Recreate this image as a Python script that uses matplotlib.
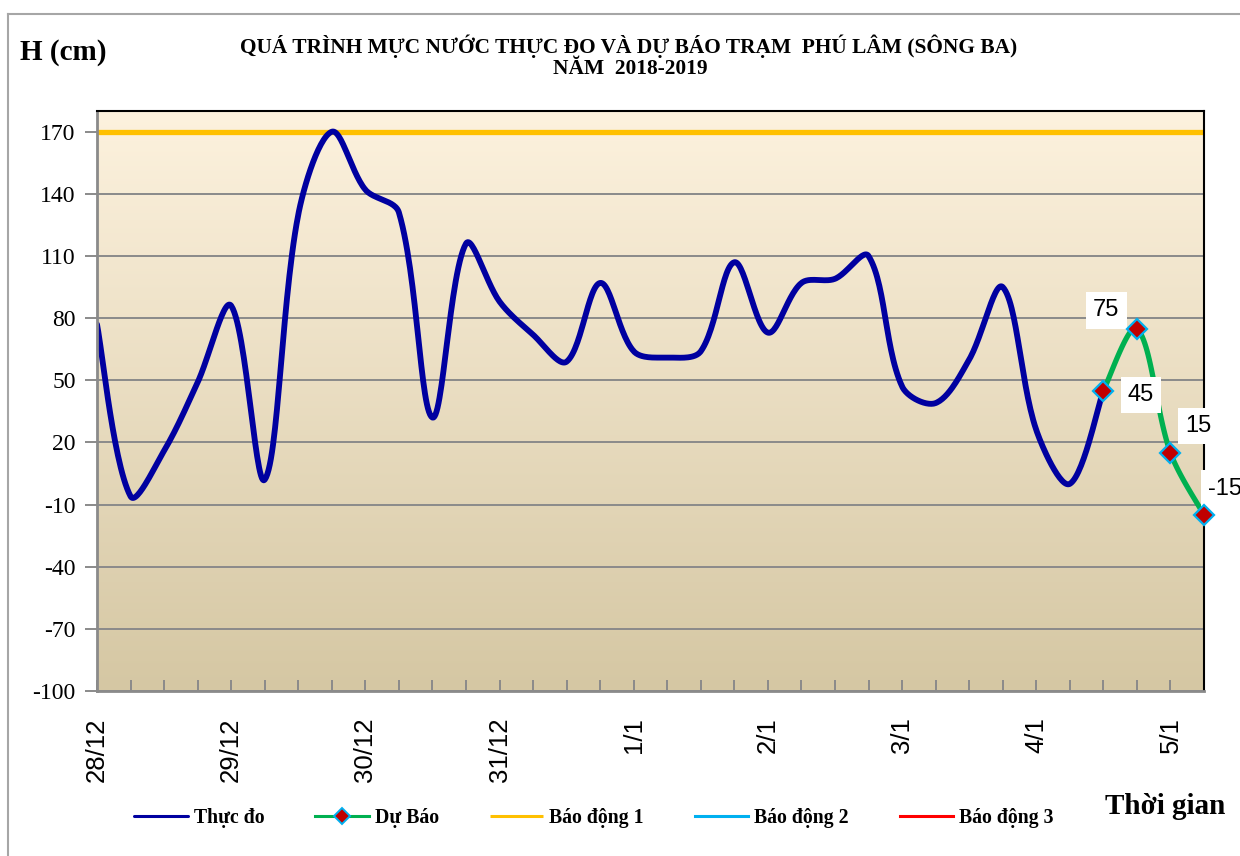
import numpy as np
import matplotlib
matplotlib.use("Agg")
import matplotlib.pyplot as plt
from matplotlib.colors import LinearSegmentedColormap
from matplotlib.lines import Line2D

# ---------------- data ----------------
# 6-hourly steps from 28/12 00h (step = 0.25 day)
obs_values = [77, -6, 16, 49, 86, 2, 130, 170, 142, 131, 32, 116, 88, 72, 59,
              97, 64, 61, 64, 107, 73, 97, 99, 110, 47, 39, 60, 95, 26, 0, 45]
fc_values = [45, 75, 15, -15]
fc_start_step = 30
step_days = 0.25

alarm1 = 170
alarm2 = 270
alarm3 = 370

day_labels = ["28/12", "29/12", "30/12", "31/12", "1/1", "2/1", "3/1", "4/1", "5/1"]
y_ticks = list(range(-100, 171, 30))

title_line1 = "QUÁ TRÌNH MỰC NƯỚC THỰC ĐO VÀ DỰ BÁO TRẠM  PHÚ LÂM (SÔNG BA)"
title_line2 = "NĂM  2018-2019"

SERIF = ["Liberation Serif", "DejaVu Serif"]
SANS = ["Liberation Sans", "DejaVu Sans"]


def excel_smooth(ax, x, y, n=30):
    """Smoothed line similar to spreadsheet 'smoothed line' (chord-weighted Bezier),
    computed in display space, returned in data space."""
    P = ax.transData.transform(np.column_stack([x, y]).astype(float))
    N = len(P)
    d = np.linalg.norm(np.diff(P, axis=0), axis=1)
    t = np.linspace(0, 1, n)[:, None]
    out = []
    for i in range(N - 1):
        p1, p2 = P[i], P[i + 1]
        p0 = P[i - 1] if i > 0 else P[i]
        p3 = P[i + 2] if i + 2 < N else P[i + 1]
        dprev = d[i - 1] if i > 0 else d[i]
        dnext = d[i + 1] if i + 1 < N - 1 else d[i]
        c1 = p1 + (p2 - p0) * d[i] / (dprev + d[i]) / 3.0
        c2 = p2 - (p3 - p1) * d[i] / (d[i] + dnext) / 3.0
        seg = ((1 - t) ** 3) * p1 + 3 * ((1 - t) ** 2) * t * c1 + 3 * (1 - t) * t ** 2 * c2 + t ** 3 * p2
        out.append(seg if i == 0 else seg[1:])
    s = ax.transData.inverted().transform(np.vstack(out))
    return s[:, 0], s[:, 1]


W, H = 1240, 856
fig = plt.figure(figsize=(W / 100, H / 100), dpi=100)
fig.patch.set_facecolor("white")

ax_l, ax_r, ax_t, ax_b = 97, 1204, 111, 691
ax = fig.add_axes([ax_l / W, 1 - ax_b / H, (ax_r - ax_l) / W, (ax_b - ax_t) / H])

obs_x = np.arange(len(obs_values)) * step_days
fc_x = (fc_start_step + np.arange(len(fc_values))) * step_days
x_end = fc_x[-1]
ax.set_xlim(0, x_end)
ax.set_ylim(-100, 180)

# gradient background
cmap = LinearSegmentedColormap.from_list("bg", ["#D5C7A3", "#FDF2DE"])
grad = np.linspace(0, 1, 256).reshape(-1, 1)
ax.imshow(grad, extent=[0, 1, 0, 1], transform=ax.transAxes, aspect="auto",
          cmap=cmap, origin="lower", zorder=0)

# grid lines
for yv in y_ticks:
    ax.axhline(yv, color="#8A8A8A", lw=1.4, zorder=1)

# alarm lines
ax.plot([0, x_end], [alarm1, alarm1], color="#FFC000", lw=3.8, zorder=2,
        solid_capstyle="butt", label="Báo động 1")
ax.plot([0, x_end], [alarm2, alarm2], color="#00B0F0", lw=3.8, zorder=2, label="Báo động 2")
ax.plot([0, x_end], [alarm3, alarm3], color="#FF0000", lw=3.8, zorder=2, label="Báo động 3")

sx, sy = excel_smooth(ax, obs_x, obs_values)
ax.plot(sx, sy, color="#0000A0", lw=4.2, zorder=3, solid_capstyle="round", label="Thực đo")

fx, fy = excel_smooth(ax, fc_x, fc_values)
ax.plot(fx, fy, color="#00B050", lw=3.8, zorder=4, solid_capstyle="round")
ax.plot(fc_x, fc_values, linestyle="none", marker="D", markersize=10,
        markerfacecolor="#C00000", markeredgecolor="#00B0F0", markeredgewidth=1.6,
        zorder=9, clip_on=False)
fc_handle = Line2D([], [], color="#00B050", lw=2.2, marker="D", markersize=8,
                   markerfacecolor="#C00000", markeredgecolor="#00B0F0", markeredgewidth=1.4)

# data labels
offsets = [(27, -3), (-22, 13), (20, 19), (15, 19)]
for xv, yv, off in zip(fc_x, fc_values, offsets):
    ax.annotate(f"{yv}", (xv, yv), xytext=off, textcoords="offset points",
                ha="center", va="center", fontsize=17, family=SANS,
                bbox=dict(boxstyle="square,pad=0.3", fc="white", ec="none"),
                annotation_clip=False, zorder=8)

ax.set_xlim(0, x_end)
ax.set_ylim(-100, 180)

# y axis
ax.set_yticks(y_ticks)
ax.set_yticklabels([str(v) for v in y_ticks], family=SERIF, fontsize=17)
ax.tick_params(axis="y", direction="out", length=9, width=1.4, color="#8A8A8A", pad=6.3)

# x axis
ax.set_xticks(np.arange(len(day_labels)))
ax.set_xticklabels(day_labels, rotation=90, family=SANS, fontsize=18.5, va="top", ha="center")
ax.set_xticks(np.arange(0, x_end + 1e-9, step_days), minor=True)
ax.tick_params(axis="x", which="both", direction="in", length=8, width=1.4,
               color="#8A8A8A", pad=19)

for side in ("left", "bottom"):
    ax.spines[side].set_color("#8A8A8A")
    ax.spines[side].set_linewidth(2)
for side in ("top", "right"):
    ax.spines[side].set_color("black")
    ax.spines[side].set_linewidth(1.5)
for sp in ax.spines.values():
    sp.set_zorder(7)

# titles
fig.text(629 / W, 1 - 46 / H, title_line1, ha="center", va="center",
         fontsize=15.4, weight="bold", family=SERIF)
fig.text(630 / W, 1 - 69 / H, title_line2, ha="center", va="center",
         fontsize=15.4, weight="bold", family=SERIF)
fig.text(63 / W, 1 - 53 / H, "H (cm)", ha="center", va="center",
         fontsize=21, weight="bold", family=SERIF)
fig.text(1165 / W, 1 - 807 / H, "Thời gian", ha="center", va="center",
         fontsize=21, weight="bold", family=SERIF)

# legend
handles, labels = ax.get_legend_handles_labels()
hmap = dict(zip(labels, handles))
order_h = [hmap["Thực đo"], fc_handle, hmap["Báo động 1"], hmap["Báo động 2"], hmap["Báo động 3"]]
order_l = ["Thực đo", "Dự Báo", "Báo động 1", "Báo động 2", "Báo động 3"]
leg = fig.legend(order_h, order_l, loc="center", bbox_to_anchor=(594 / W, 1 - 818 / H),
                 ncol=5, frameon=False, handlelength=2.7, handletextpad=0.3,
                 columnspacing=2.6, prop=dict(family=SERIF, weight="bold", size=14.2))
for ln in leg.get_lines():
    ln.set_linewidth(2.2)

# outer frame
fig.add_artist(Line2D([8 / W, 8 / W], [0, 1 - 14 / H], transform=fig.transFigure,
                      color="#A6A6A6", lw=1.5))
fig.add_artist(Line2D([8 / W, 1], [1 - 14 / H, 1 - 14 / H], transform=fig.transFigure,
                      color="#A6A6A6", lw=1.5))

fig.savefig("out.png", dpi=100)
